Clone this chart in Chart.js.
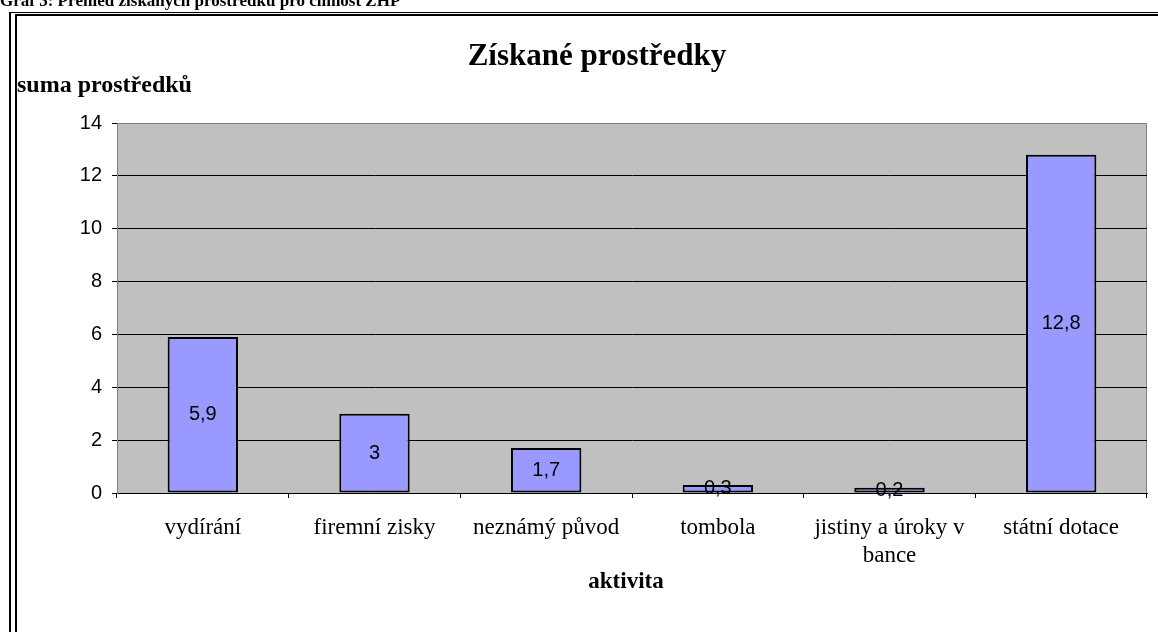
<!DOCTYPE html>
<html><head><meta charset="utf-8">
<script src="https://cdn.jsdelivr.net/npm/chart.js@4"></script>
<style>
html,body{margin:0;padding:0;background:#fff;overflow:hidden}
#wrap{position:relative;width:1158px;height:632px;overflow:hidden}
#c{position:absolute;left:0;top:0}
.ln{position:absolute;background:#000}
#hdr{position:absolute;left:0;top:-9px;font:bold 17px "Liberation Serif";white-space:nowrap;line-height:20px;color:#000}
</style></head><body>
<div id="wrap">
<canvas id="c" width="1158" height="632"></canvas>
<div id="hdr">Graf 3: Přehled získaných prostředků pro činnost ZHP</div>
<div class="ln" style="left:9px;top:12px;width:2px;height:620px"></div>
<div class="ln" style="left:9px;top:12px;width:1149px;height:1px"></div>
<div class="ln" style="left:15px;top:14px;width:2px;height:618px"></div>
<div class="ln" style="left:15px;top:14px;width:1143px;height:2px"></div>
</div>
<script>
const categories = ["vydírání", "firemní zisky", "neznámý původ", "tombola", ["jistiny a úroky v", "bance"], "státní dotace"];
const values = [5.9, 3, 1.7, 0.3, 0.2, 12.8];
const yTicks = [0, 2, 4, 6, 8, 10, 12, 14];
const chartTitle = "Získané prostředky";
const yTitle = "suma prostředků";
const xTitle = "aktivita";

const fmt = v => String(v).replace('.', ',');

const plotBg = {
  id: 'plotBg',
  beforeDraw(chart) {
    const {ctx, chartArea: a} = chart;
    ctx.save();
    ctx.fillStyle = '#C0C0C0';
    ctx.fillRect(a.left, a.top, a.right - a.left, a.bottom - a.top);
    ctx.strokeStyle = '#808080';
    ctx.lineWidth = 1;
    ctx.strokeRect(a.left + 0.5, a.top + 0.5, a.right - a.left - 1, a.bottom - a.top);
    ctx.restore();
  }
};

const texts = {
  id: 'texts',
  afterDraw(chart) {
    const {ctx} = chart;
    ctx.save();
    ctx.fillStyle = '#000';
    ctx.textBaseline = 'alphabetic';
    ctx.textAlign = 'center';
    ctx.font = 'bold 31px "Liberation Serif"';
    ctx.fillText(chartTitle, 597, 65);
    ctx.textAlign = 'left';
    ctx.font = 'bold 24px "Liberation Serif"';
    ctx.fillText(yTitle, 17, 92);
    ctx.textAlign = 'center';
    ctx.font = 'bold 23px "Liberation Serif"';
    ctx.fillText(xTitle, 626, 588);
    ctx.restore();
  }
};

const barLabels = {
  id: 'barLabels',
  afterDatasetsDraw(chart) {
    const {ctx} = chart;
    const meta = chart.getDatasetMeta(0);
    ctx.save();
    ctx.fillStyle = '#000';
    ctx.font = '20px "Liberation Sans"';
    ctx.textAlign = 'center';
    ctx.textBaseline = 'middle';
    meta.data.forEach((el, i) => {
      const y = (el.y + el.base) / 2;
      ctx.fillText(fmt(values[i]), el.x, y);
    });
    ctx.restore();
  }
};

new Chart(document.getElementById('c'), {
  type: 'bar',
  data: {
    labels: categories,
    datasets: [{
      data: values,
      backgroundColor: '#9999FF',
      borderColor: '#000',
      borderWidth: 2,
      borderSkipped: false,
      barPercentage: 0.41,
      categoryPercentage: 1
    }]
  },
  options: {
    responsive: false,
    animation: false,
    layout: {padding: {left: 0, top: 123, right: 11, bottom: 0}},
    plugins: {legend: {display: false}, tooltip: {enabled: false}, title: {display: false}},
    scales: {
      x: {
        afterFit(s) { s.height = 139; },
        grid: {drawOnChartArea: false, tickLength: 5, tickColor: '#000', offset: true},
        border: {color: '#000', width: 1},
        ticks: {
          color: '#000',
          font: {family: '"Liberation Serif"', size: 23, lineHeight: 1.22},
          padding: 16, maxRotation: 0, minRotation: 0, autoSkip: false
        }
      },
      y: {
        min: yTicks[0],
        max: yTicks[yTicks.length - 1],
        afterFit(s) { s.width = 117; },
        afterBuildTicks(s) { s.ticks = yTicks.map(v => ({value: v})); },
        grid: {
          color: c => (c.tick && c.tick.value > yTicks[0] && c.tick.value < yTicks[yTicks.length - 1]) ? '#000' : 'rgba(0,0,0,0)',
          tickColor: '#000', tickLength: 5, lineWidth: 1
        },
        border: {color: '#808080', width: 1},
        ticks: {
          color: '#000',
          font: {family: '"Liberation Sans"', size: 20},
          padding: 10,
          callback: v => fmt(v)
        }
      }
    }
  },
  plugins: [plotBg, texts, barLabels]
});
</script>
</body></html>
